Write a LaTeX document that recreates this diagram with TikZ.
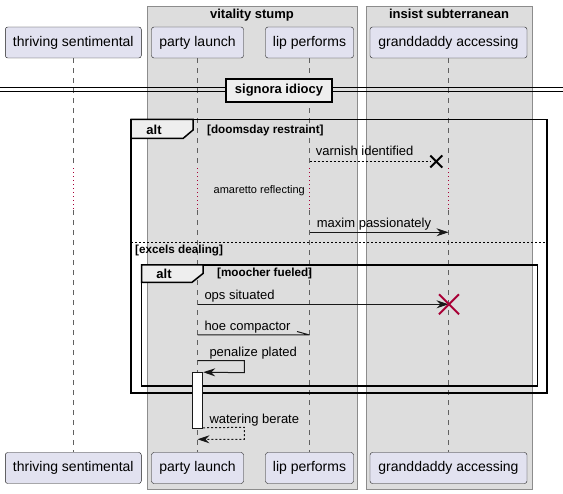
\documentclass[tikz,border=0pt]{standalone}
\usepackage{fontspec}
\setmainfont{Liberation Sans}
\usetikzlibrary{arrows.meta}
\definecolor{partfill}{HTML}{E2E2F0}
\definecolor{partdraw}{HTML}{181818}
\definecolor{groupfill}{HTML}{DDDDDD}
\definecolor{groupdraw}{HTML}{8C8C8C}
\definecolor{tabfill}{HTML}{EEEEEE}
\definecolor{killred}{HTML}{A80036}
\begin{document}
\begin{tikzpicture}[x=1pt,y=-1pt,
    part/.style={draw=partdraw, fill=partfill, rounded corners=2.5pt, minimum height=31pt, inner sep=0pt, font=\fontsize{14}{16}\selectfont},
    lifeline/.style={draw=gray!75!black, line width=0.8pt, dash pattern=on 5pt off 5pt},
    delay/.style={draw=killred, line width=0.8pt, dash pattern=on 1pt off 3pt},
    msg/.style={draw=partdraw, line width=1pt, -{Stealth[length=12pt,width=8pt,inset=4pt]}},
    retmsg/.style={msg, dash pattern=on 2pt off 2pt},
    lbl/.style={anchor=base west, inner sep=0pt, font=\fontsize{13}{15}\selectfont},
    cond/.style={anchor=base west, inner sep=0pt, font=\bfseries\fontsize{11.7}{14}\selectfont},
    frame/.style={draw=black, line width=1.5pt}]

    \useasboundingbox (0,0) rectangle (563,494);

    % boxes
    \draw[draw=groupdraw, fill=groupfill] (147.5,6.5) rectangle (357,489);
    \draw[draw=groupdraw, fill=groupfill] (366.5,6.5) rectangle (532,489);
    \node[anchor=base, inner sep=0pt, font=\bfseries\fontsize{13}{15}\selectfont] (vitality) at (252,19) {vitality stump};
    \node[anchor=base, inner sep=0pt, font=\bfseries\fontsize{13}{15}\selectfont] (insist) at (449,19) {insist subterranean};

    \node[part, minimum width=136pt] (thrT) at (73.3,42.5) {thriving sentimental};
    \node[part, minimum width=92pt] (parT) at (197.5,42.5) {party launch};
    \node[part, minimum width=88pt] (lipT) at (309.5,42.5) {lip performs};
    \node[part, minimum width=157pt] (graT) at (448.5,42.5) {granddaddy accessing};

    \node[part, minimum width=136pt] (thrB) at (73.3,468) {thriving sentimental};
    \node[part, minimum width=92pt] (parB) at (197.5,468) {party launch};
    \node[part, minimum width=88pt] (lipB) at (309.5,468) {lip performs};
    \node[part, minimum width=157pt] (graB) at (448.5,468) {granddaddy accessing};

    \coordinate (dA) at (0,168.5);
    \coordinate (dB) at (0,210.5);
    \foreach \n in {thr,par,lip,gra} {
        \draw[lifeline] (\n T.south) -- (\n T.south |- dA);
        \draw[delay] (\n T.south |- dA) -- (\n T.south |- dB);
        \draw[lifeline] (\n T.south |- dB) -- (\n B.north);
    }

    % divider
    \draw[line width=1pt] (0,87.5) -- (563,87.5) (0,91.5) -- (563,91.5);
    \node[draw, line width=1.5pt, fill=tabfill, minimum width=106pt, minimum height=23pt, inner sep=0pt, font=\bfseries\fontsize{13}{15}\selectfont] (signora) at (279,90.3) {signora idiocy};

    % outer alt
    \draw[frame] (131,119.5) rectangle (547,393);
    \draw[frame, fill=tabfill] (131,119.5) -- (193,119.5) -- (193,130) -- (183,138.5) -- (131,138.5) -- cycle;
    \node[anchor=base, inner sep=0pt, font=\bfseries\fontsize{13}{15}\selectfont] (altA) at (154,135) {alt};
    \node[cond] (doomsday) at (207,134) {[doomsday restraint]};
    \draw[line width=1pt, dash pattern=on 2pt off 2pt] (131,242.3) -- (547,242.3);
    \node[cond] (excels) at (135,253.5) {[excels dealing]};

    % inner alt
    \draw[frame] (141.7,265) rectangle (537.5,386);
    \draw[frame, fill=tabfill] (141.7,265) -- (203,265) -- (203,273.5) -- (192,282.3) -- (141.7,282.3) -- cycle;
    \node[anchor=base, inner sep=0pt, font=\bfseries\fontsize{13}{15}\selectfont] (altB) at (164,279) {alt};
    \node[cond] (moocher) at (217,277) {[moocher fueled]};

    % messages
    \coordinate (varA) at (lipT.south |- 0,161.3);
    \coordinate (varB) at (430.5,161.3);
    \draw[line width=1pt, dash pattern=on 2pt off 2pt] (varA) -- (varB);
    \draw[line width=2pt] (430.3,155.5) -- (442.3,167.5) (430.3,167.5) -- (442.3,155.5);
    \node[lbl] (varnish) at (315.7,155.5) {varnish identified};

    \node[anchor=base east, inner sep=0pt, font=\fontsize{11}{13}\selectfont] (amaretto) at (305,194) {amaretto reflecting};

    \coordinate (maxA) at (lipT.south |- 0,232.3);
    \coordinate (maxB) at (graT.south |- 0,232.3);
    \draw[msg] (maxA) -- (maxB);
    \node[lbl] (maxim) at (316.7,228) {maxim passionately};

    \coordinate (opsA) at (parT.south |- 0,304.3);
    \coordinate (opsB) at (graT.south |- 0,304.3);
    \draw[msg] (opsA) -- (opsB);
    \draw[killred, line width=2pt] (439,294.3) -- (459,314.3) (439,314.3) -- (459,294.3);
    \node[lbl] (ops) at (204.3,300) {ops situated};

    \coordinate (hoeA) at (parT.south |- 0,335);
    \coordinate (hoeB) at (lipT.south |- 0,335);
    \draw[partdraw, line width=1pt] (hoeA) -- (hoeB) (297,331.5) -- (hoeB);
    \node[lbl] (hoe) at (204.3,330.5) {hoe compactor};

    \node[draw=partdraw, fill=white, line width=1pt, minimum width=10pt, minimum height=55.6pt, inner sep=0pt] (act) at (197.7,400.5) {};

    \coordinate (penA) at (parT.south |- 0,360.7);
    \draw[msg] (penA) -- (244.3,360.7) -- (244.3,372.7) -- (act.north east);
    \node[lbl] (penalize) at (209.3,356.5) {penalize plated};

    \coordinate (watB) at (parT.south |- 0,439.3);
    \draw[retmsg] (act.south east) ++(0,-1) -- (244.3,427.3) -- (244.3,439.3) -- (watB);
    \node[lbl] (watering) at (209.3,423.5) {watering berate};

\end{tikzpicture}
\end{document}
